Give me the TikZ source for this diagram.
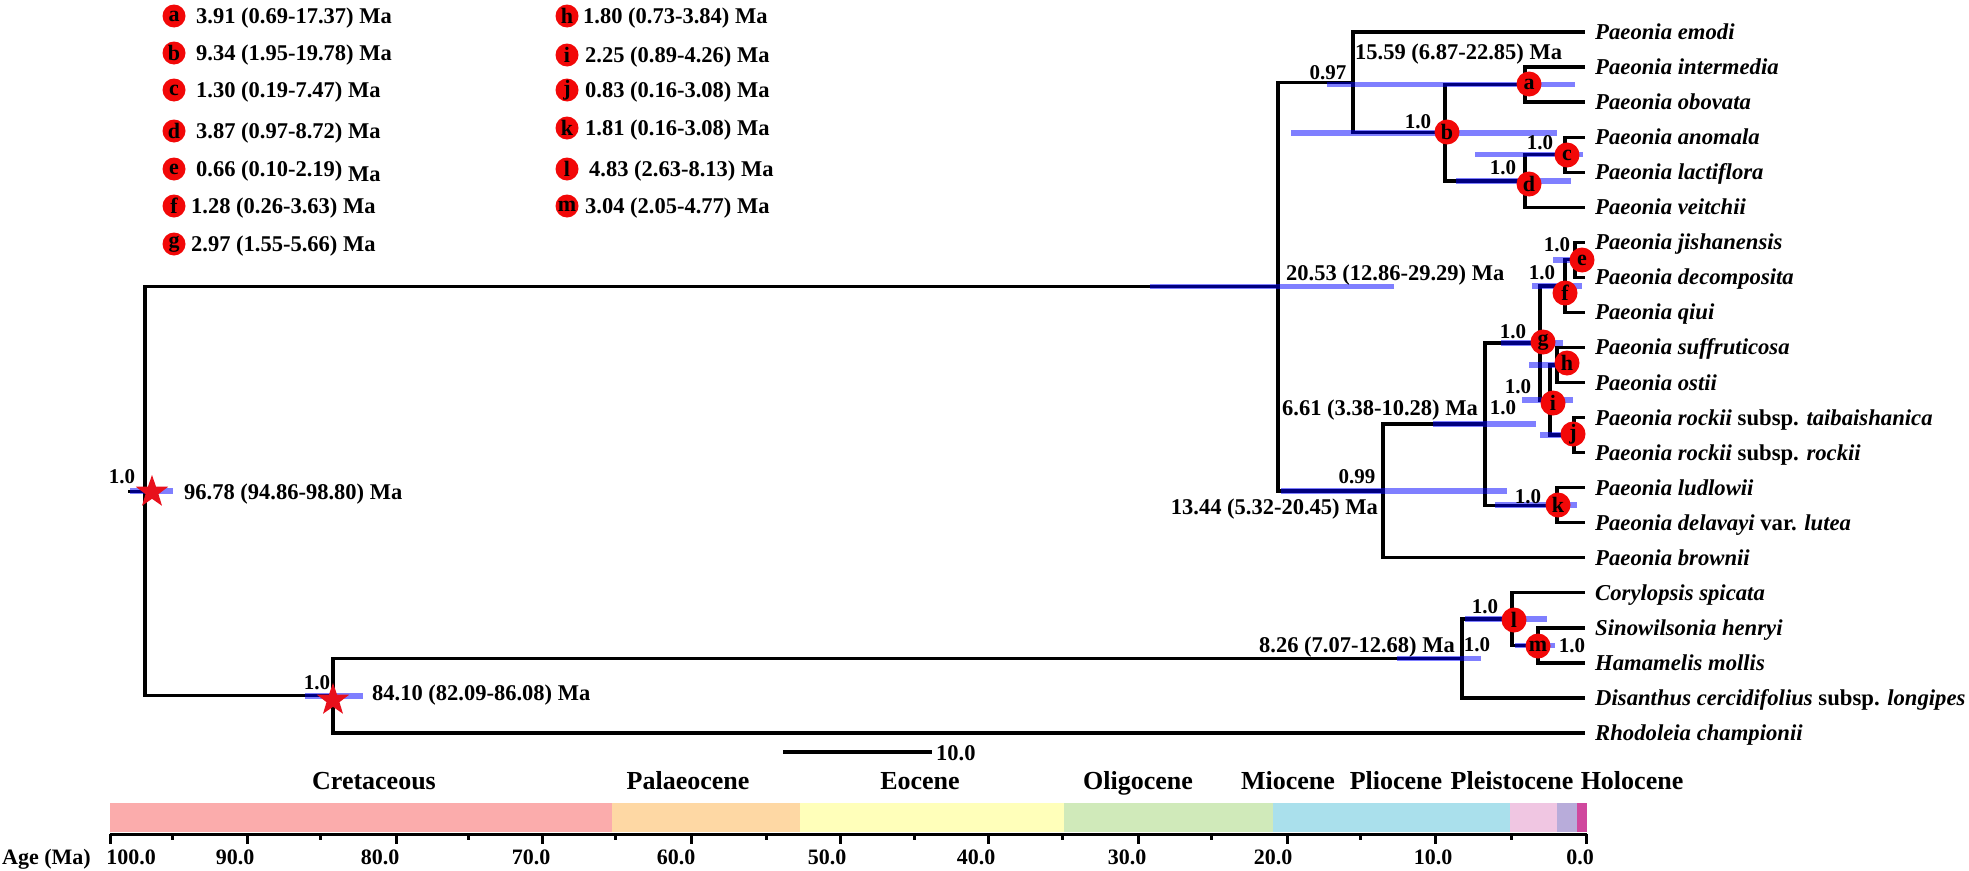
\documentclass[tikz,border=0pt]{standalone}
\usepackage{fontspec}
\setmainfont{Liberation Serif}
\usetikzlibrary{shapes.geometric}
\definecolor{starred}{RGB}{232,16,28}
\definecolor{mkred}{RGB}{242,8,8}
\definecolor{cCre}{RGB}{251,172,172}
\definecolor{cPal}{RGB}{254,216,164}
\definecolor{cEoc}{RGB}{255,255,186}
\definecolor{cOli}{RGB}{208,234,186}
\definecolor{cMio}{RGB}{170,224,236}
\definecolor{cPli}{RGB}{240,198,226}
\definecolor{cPle}{RGB}{184,172,218}
\definecolor{cHol}{RGB}{208,72,158}
\begin{document}
\begin{tikzpicture}[x=1pt,y=-1pt,
 br/.style={line width=3.3pt, line cap=rect, line join=miter, black},
 hpd/.style={line width=5.5pt, blue, opacity=0.5},
 mk/.style={circle, fill=mkred, minimum size=25pt, inner sep=0pt, font=\fontsize{22}{24}\selectfont\bfseries},
 lmk/.style={mk, minimum size=23pt},
 agel/.style={font=\fontsize{22.5}{26}\selectfont\bfseries, inner sep=0pt},
 supl/.style={font=\fontsize{21}{24}\selectfont\bfseries, inner sep=0pt},
 tipl/.style={font=\fontsize{22.7}{26}\selectfont\bfseries\itshape, inner sep=0pt, anchor=base west},
 perl/.style={font=\fontsize{26}{30}\selectfont\bfseries, inner sep=0pt, anchor=base},
 tickl/.style={font=\fontsize{22}{26}\selectfont\bfseries, inner sep=0pt, anchor=base},
 starn/.style={star, star points=5, star point ratio=2.5, minimum size=34pt, inner sep=0pt, fill=starred},
 axl/.style={line width=3pt, black}
]
\useasboundingbox (0,0) rectangle (1969,870);

% ---------- tip coordinates ----------
\coordinate (t0) at (1583,32.00);
\coordinate (t1) at (1583,67.05);
\coordinate (t2) at (1583,102.10);
\coordinate (t3) at (1583,137.15);
\coordinate (t4) at (1583,172.20);
\coordinate (t5) at (1583,207.25);
\coordinate (t6) at (1583,242.30);
\coordinate (t7) at (1583,277.35);
\coordinate (t8) at (1583,312.40);
\coordinate (t9) at (1583,347.45);
\coordinate (t10) at (1583,382.50);
\coordinate (t11) at (1583,417.55);
\coordinate (t12) at (1583,452.60);
\coordinate (t13) at (1583,487.65);
\coordinate (t14) at (1583,522.70);
\coordinate (t15) at (1583,557.75);
\coordinate (t16) at (1583,592.80);
\coordinate (t17) at (1583,627.85);
\coordinate (t18) at (1583,662.90);
\coordinate (t19) at (1583,697.95);
\coordinate (t20) at (1583,733.00);

% ---------- internal nodes ----------
\coordinate (r0) at (130,491.21);
\coordinate (root) at (145,491.21);
\coordinate (n84) at (333,695.76);
\coordinate (n20) at (1278,286.66);
\coordinate (n15) at (1353,82.39);
\coordinate (nb) at (1445,132.77);
\coordinate (na) at (1525,84.58);
\coordinate (nd) at (1525,180.96);
\coordinate (nc) at (1565,154.68);
\coordinate (n13) at (1383,490.94);
\coordinate (n6) at (1485,424.12);
\coordinate (ng) at (1540,343.07);
\coordinate (nf) at (1565,286.11);
\coordinate (ne) at (1575,259.83);
\coordinate (ni) at (1550,400.03);
\coordinate (nh) at (1557,364.98);
\coordinate (nj) at (1574,435.08);
\coordinate (nk) at (1557,505.18);
\coordinate (n8) at (1462,658.52);
\coordinate (nl) at (1512,619.09);
\coordinate (nm) at (1538,645.38);

% ---------- branches ----------
\draw[br] (r0) -- (root);
\draw[br] (root) |- (n20);
\draw[br] (root) |- (n84);
\draw[br] (n20) |- (n15);
\draw[br] (n20) |- (n13);
\draw[br] (n15) |- (t0);
\draw[br] (n15) |- (nb);
\draw[br] (nb) |- (na);
\draw[br] (nb) |- (nd);
\draw[br] (na) |- (t1);
\draw[br] (na) |- (t2);
\draw[br] (nd) |- (nc);
\draw[br] (nd) |- (t5);
\draw[br] (nc) |- (t3);
\draw[br] (nc) |- (t4);
\draw[br] (n13) |- (n6);
\draw[br] (n13) |- (t15);
\draw[br] (n6) |- (ng);
\draw[br] (n6) |- (nk);
\draw[br] (ng) |- (nf);
\draw[br] (ng) |- (ni);
\draw[br] (nf) |- (ne);
\draw[br] (nf) |- (t8);
\draw[br] (ne) |- (t6);
\draw[br] (ne) |- (t7);
\draw[br] (ni) |- (nh);
\draw[br] (ni) |- (nj);
\draw[br] (nh) |- (t9);
\draw[br] (nh) |- (t10);
\draw[br] (nj) |- (t11);
\draw[br] (nj) |- (t12);
\draw[br] (nk) |- (t13);
\draw[br] (nk) |- (t14);
\draw[br] (n84) |- (n8);
\draw[br] (n84) |- (t20);
\draw[br] (n8) |- (nl);
\draw[br] (n8) |- (t19);
\draw[br] (nl) |- (t16);
\draw[br] (nl) |- (nm);
\draw[br] (nm) |- (t17);
\draw[br] (nm) |- (t18);

% ---------- 95% HPD bars ----------
\draw[hpd] (130,491.21) -- (173,491.21);
\draw[hpd] (305,695.76) -- (363,695.76);
\draw[hpd] (1150,286.66) -- (1394,286.66);
\draw[hpd] (1327,84.58) -- (1575,84.58);
\draw[hpd] (1291,132.77) -- (1557,132.77);
\draw[hpd] (1475,154.68) -- (1583,154.68);
\draw[hpd] (1456,180.96) -- (1571,180.96);
\draw[hpd] (1553,259.83) -- (1584,259.83);
\draw[hpd] (1532,286.11) -- (1582,286.11);
\draw[hpd] (1501,343.07) -- (1563,343.07);
\draw[hpd] (1529,364.98) -- (1575,364.98);
\draw[hpd] (1522,400.03) -- (1573,400.03);
\draw[hpd] (1540,435.08) -- (1584,435.08);
\draw[hpd] (1495,505.18) -- (1577,505.18);
\draw[hpd] (1281,490.94) -- (1507,490.94);
\draw[hpd] (1433,424.12) -- (1536,424.12);
\draw[hpd] (1397,658.52) -- (1481,658.52);
\draw[hpd] (1465,619.09) -- (1547,619.09);
\draw[hpd] (1515,645.38) -- (1555,645.38);

% ---------- calibration stars ----------
\node[starn] (s1) at (152,492) {};
\node[starn] (s2) at (333,700) {};

% ---------- node markers ----------
\node[mk] (Ma) at (1529,84) {a};
\node[mk] (Mb) at (1447,132) {b};
\node[mk] (Mc) at (1567,155) {c};
\node[mk] (Md) at (1529,184) {d};
\node[mk] (Me) at (1582,260) {e};
\node[mk] (Mf) at (1565,293) {f};
\node[mk] (Mg) at (1543,342) {g};
\node[mk] (Mh) at (1567,363) {h};
\node[mk] (Mi) at (1553,403) {i};
\node[mk] (Mj) at (1573,434) {j};
\node[mk] (Mk) at (1558,505) {k};
\node[mk] (Ml) at (1514,620) {l};
\node[mk] (Mm) at (1538,646) {m};

% ---------- support values ----------
\node[supl] (Sroot) at (122,477) {1.0};
\node[supl] (S84) at (317,683) {1.0};
\node[supl] (S097) at (1328,73) {0.97};
\node[supl] (Sb) at (1418,122) {1.0};
\node[supl] (Sc) at (1540,143) {1.0};
\node[supl] (Sd) at (1503,168) {1.0};
\node[supl] (Se) at (1557,245) {1.0};
\node[supl] (Sf) at (1542,273) {1.0};
\node[supl] (Sg) at (1513,332) {1.0};
\node[supl] (Si) at (1518,387) {1.0};
\node[supl] (S6) at (1503,408) {1.0};
\node[supl] (Sk) at (1528,497) {1.0};
\node[supl] (S099) at (1357,477) {0.99};
\node[supl] (Sl) at (1485,607) {1.0};
\node[supl] (S8) at (1477,645) {1.0};
\node[supl] (Sm) at (1572,646) {1.0};

% ---------- age labels ----------
\node[agel, anchor=base west] (L96) at (184,499.5) {96.78 (94.86-98.80) Ma};
\node[agel, anchor=base west] (L84) at (372,700.5) {84.10 (82.09-86.08) Ma};
\node[agel, anchor=base west] (L20) at (1286,280.5) {20.53 (12.86-29.29) Ma};
\node[agel, anchor=base west] (L15) at (1355,59.5) {15.59 (6.87-22.85) Ma};
\node[agel, anchor=base east] (L13) at (1378,514.5) {13.44 (5.32-20.45) Ma};
\node[agel, anchor=base west] (L6) at (1282,415.5) {6.61 (3.38-10.28) Ma};
\node[agel, anchor=base east] (L8) at (1455,652.5) {8.26 (7.07-12.68) Ma};

% ---------- tip labels ----------
\node[tipl] (T0) at (1595,39.50) {Paeonia emodi};
\node[tipl] (T1) at (1595,74.55) {Paeonia intermedia};
\node[tipl] (T2) at (1595,109.60) {Paeonia obovata};
\node[tipl] (T3) at (1595,144.65) {Paeonia anomala};
\node[tipl] (T4) at (1595,179.70) {Paeonia lactiflora};
\node[tipl] (T5) at (1595,214.75) {Paeonia veitchii};
\node[tipl] (T6) at (1595,249.80) {Paeonia jishanensis};
\node[tipl] (T7) at (1595,284.85) {Paeonia decomposita};
\node[tipl] (T8) at (1595,319.90) {Paeonia qiui};
\node[tipl] (T9) at (1595,354.95) {Paeonia suffruticosa};
\node[tipl] (T10) at (1595,390.00) {Paeonia ostii};
\node[tipl] (T11) at (1595,425.05) {Paeonia rockii {\upshape subsp.} taibaishanica};
\node[tipl] (T12) at (1595,460.10) {Paeonia rockii {\upshape subsp.} rockii};
\node[tipl] (T13) at (1595,495.15) {Paeonia ludlowii};
\node[tipl] (T14) at (1595,530.20) {Paeonia delavayi {\upshape var.} lutea};
\node[tipl] (T15) at (1595,565.25) {Paeonia brownii};
\node[tipl] (T16) at (1595,600.30) {Corylopsis spicata};
\node[tipl] (T17) at (1595,635.35) {Sinowilsonia henryi};
\node[tipl] (T18) at (1595,670.40) {Hamamelis mollis};
\node[tipl] (T19) at (1595,705.45) {Disanthus cercidifolius {\upshape subsp.} longipes};
\node[tipl] (T20) at (1595,740.50) {Rhodoleia championii};

% ---------- legend ----------
\node[lmk] (Ka) at (174,16) {a};
\node[lmk] (Kb) at (174,53) {b};
\node[lmk] (Kc) at (174,90) {c};
\node[lmk] (Kd) at (174,131) {d};
\node[lmk] (Ke) at (174,169) {e};
\node[lmk] (Kf) at (174,206) {f};
\node[lmk] (Kg) at (174,244) {g};
\node[agel, anchor=base west] (Ga) at (196,23.5) {3.91 (0.69-17.37) Ma};
\node[agel, anchor=base west] (Gb) at (196,60.5) {9.34 (1.95-19.78) Ma};
\node[agel, anchor=base west] (Gc) at (196,97.5) {1.30 (0.19-7.47) Ma};
\node[agel, anchor=base west] (Gd) at (196,138.5) {3.87 (0.97-8.72) Ma};
\node[agel, anchor=base west] (Ge) at (196,176.5) {0.66 (0.10-2.19) \raisebox{-5pt}{Ma}};
\node[agel, anchor=base west] (Gf) at (191,213.5) {1.28 (0.26-3.63) Ma};
\node[agel, anchor=base west] (Gg) at (191,251.5) {2.97 (1.55-5.66) Ma};
\node[lmk] (Kh) at (567,16) {h};
\node[lmk] (Ki) at (567,55) {i};
\node[lmk] (Kj) at (567,90) {j};
\node[lmk] (Kk) at (567,128) {k};
\node[lmk] (Kl) at (567,169) {l};
\node[lmk] (Km) at (567,206) {m};
\node[agel, anchor=base west] (Gh) at (583,23.5) {1.80 (0.73-3.84) Ma};
\node[agel, anchor=base west] (Gi) at (585,62.5) {2.25 (0.89-4.26) Ma};
\node[agel, anchor=base west] (Gj) at (585,97.5) {0.83 (0.16-3.08) Ma};
\node[agel, anchor=base west] (Gk) at (585,135.5) {1.81 (0.16-3.08) Ma};
\node[agel, anchor=base west] (Gl) at (589,176.5) {4.83 (2.63-8.13) Ma};
\node[agel, anchor=base west] (Gm) at (585,213.5) {3.04 (2.05-4.77) Ma};

% ---------- scale bar ----------
\coordinate (sb0) at (783,752);
\coordinate (sb1) at (932,752);
\draw[br, line cap=butt] (sb0) -- (sb1);
\node[agel, anchor=base west] (SB) at (936,760) {10.0};

% ---------- geological time bar ----------
\fill[cCre] (110,803) rectangle (612,832);
\fill[cPal] (612,803) rectangle (800,832);
\fill[cEoc] (800,803) rectangle (1064,832);
\fill[cOli] (1064,803) rectangle (1273,832);
\fill[cMio] (1273,803) rectangle (1510,832);
\fill[cPli] (1510,803) rectangle (1557,832);
\fill[cPle] (1557,803) rectangle (1577,832);
\fill[cHol] (1577,803) rectangle (1587,832);

\node[perl] (P1) at (374,789) {Cretaceous};
\node[perl] (P2) at (688,789) {Palaeocene};
\node[perl] (P3) at (920,789) {Eocene};
\node[perl] (P4) at (1138,789) {Oligocene};
\node[perl] (P5) at (1288,789) {Miocene};
\node[perl] (P6) at (1396,789) {Pliocene};
\node[perl] (P7) at (1512,789) {Pleistocene};
\node[perl] (P8) at (1632,789) {Holocene};

% ---------- axis ----------
\coordinate (ax0) at (110,834);
\coordinate (ax1) at (1587,834);
\draw[axl] (ax0) -- (ax1);
\foreach \x in {110,247,396,542,691,840,988,1138,1287,1435,1586}
  \draw[axl] (\x,834) -- (\x,844);
\foreach \x in {172,320,468,615,766,914,1062,1211,1360,1511}
  \draw[axl] (\x,834) -- (\x,840);
\node[tickl, anchor=base west] (A0) at (2,864) {Age (Ma)};
\node[tickl] (A100) at (131,864) {100.0};
\node[tickl] (A90) at (235,864) {90.0};
\node[tickl] (A80) at (380,864) {80.0};
\node[tickl] (A70) at (531,864) {70.0};
\node[tickl] (A60) at (676,864) {60.0};
\node[tickl] (A50) at (827,864) {50.0};
\node[tickl] (A40) at (976,864) {40.0};
\node[tickl] (A30) at (1127,864) {30.0};
\node[tickl] (A20) at (1273,864) {20.0};
\node[tickl] (A10) at (1433,864) {10.0};
\node[tickl] (A0b) at (1580,864) {0.0};
\end{tikzpicture}
\end{document}
